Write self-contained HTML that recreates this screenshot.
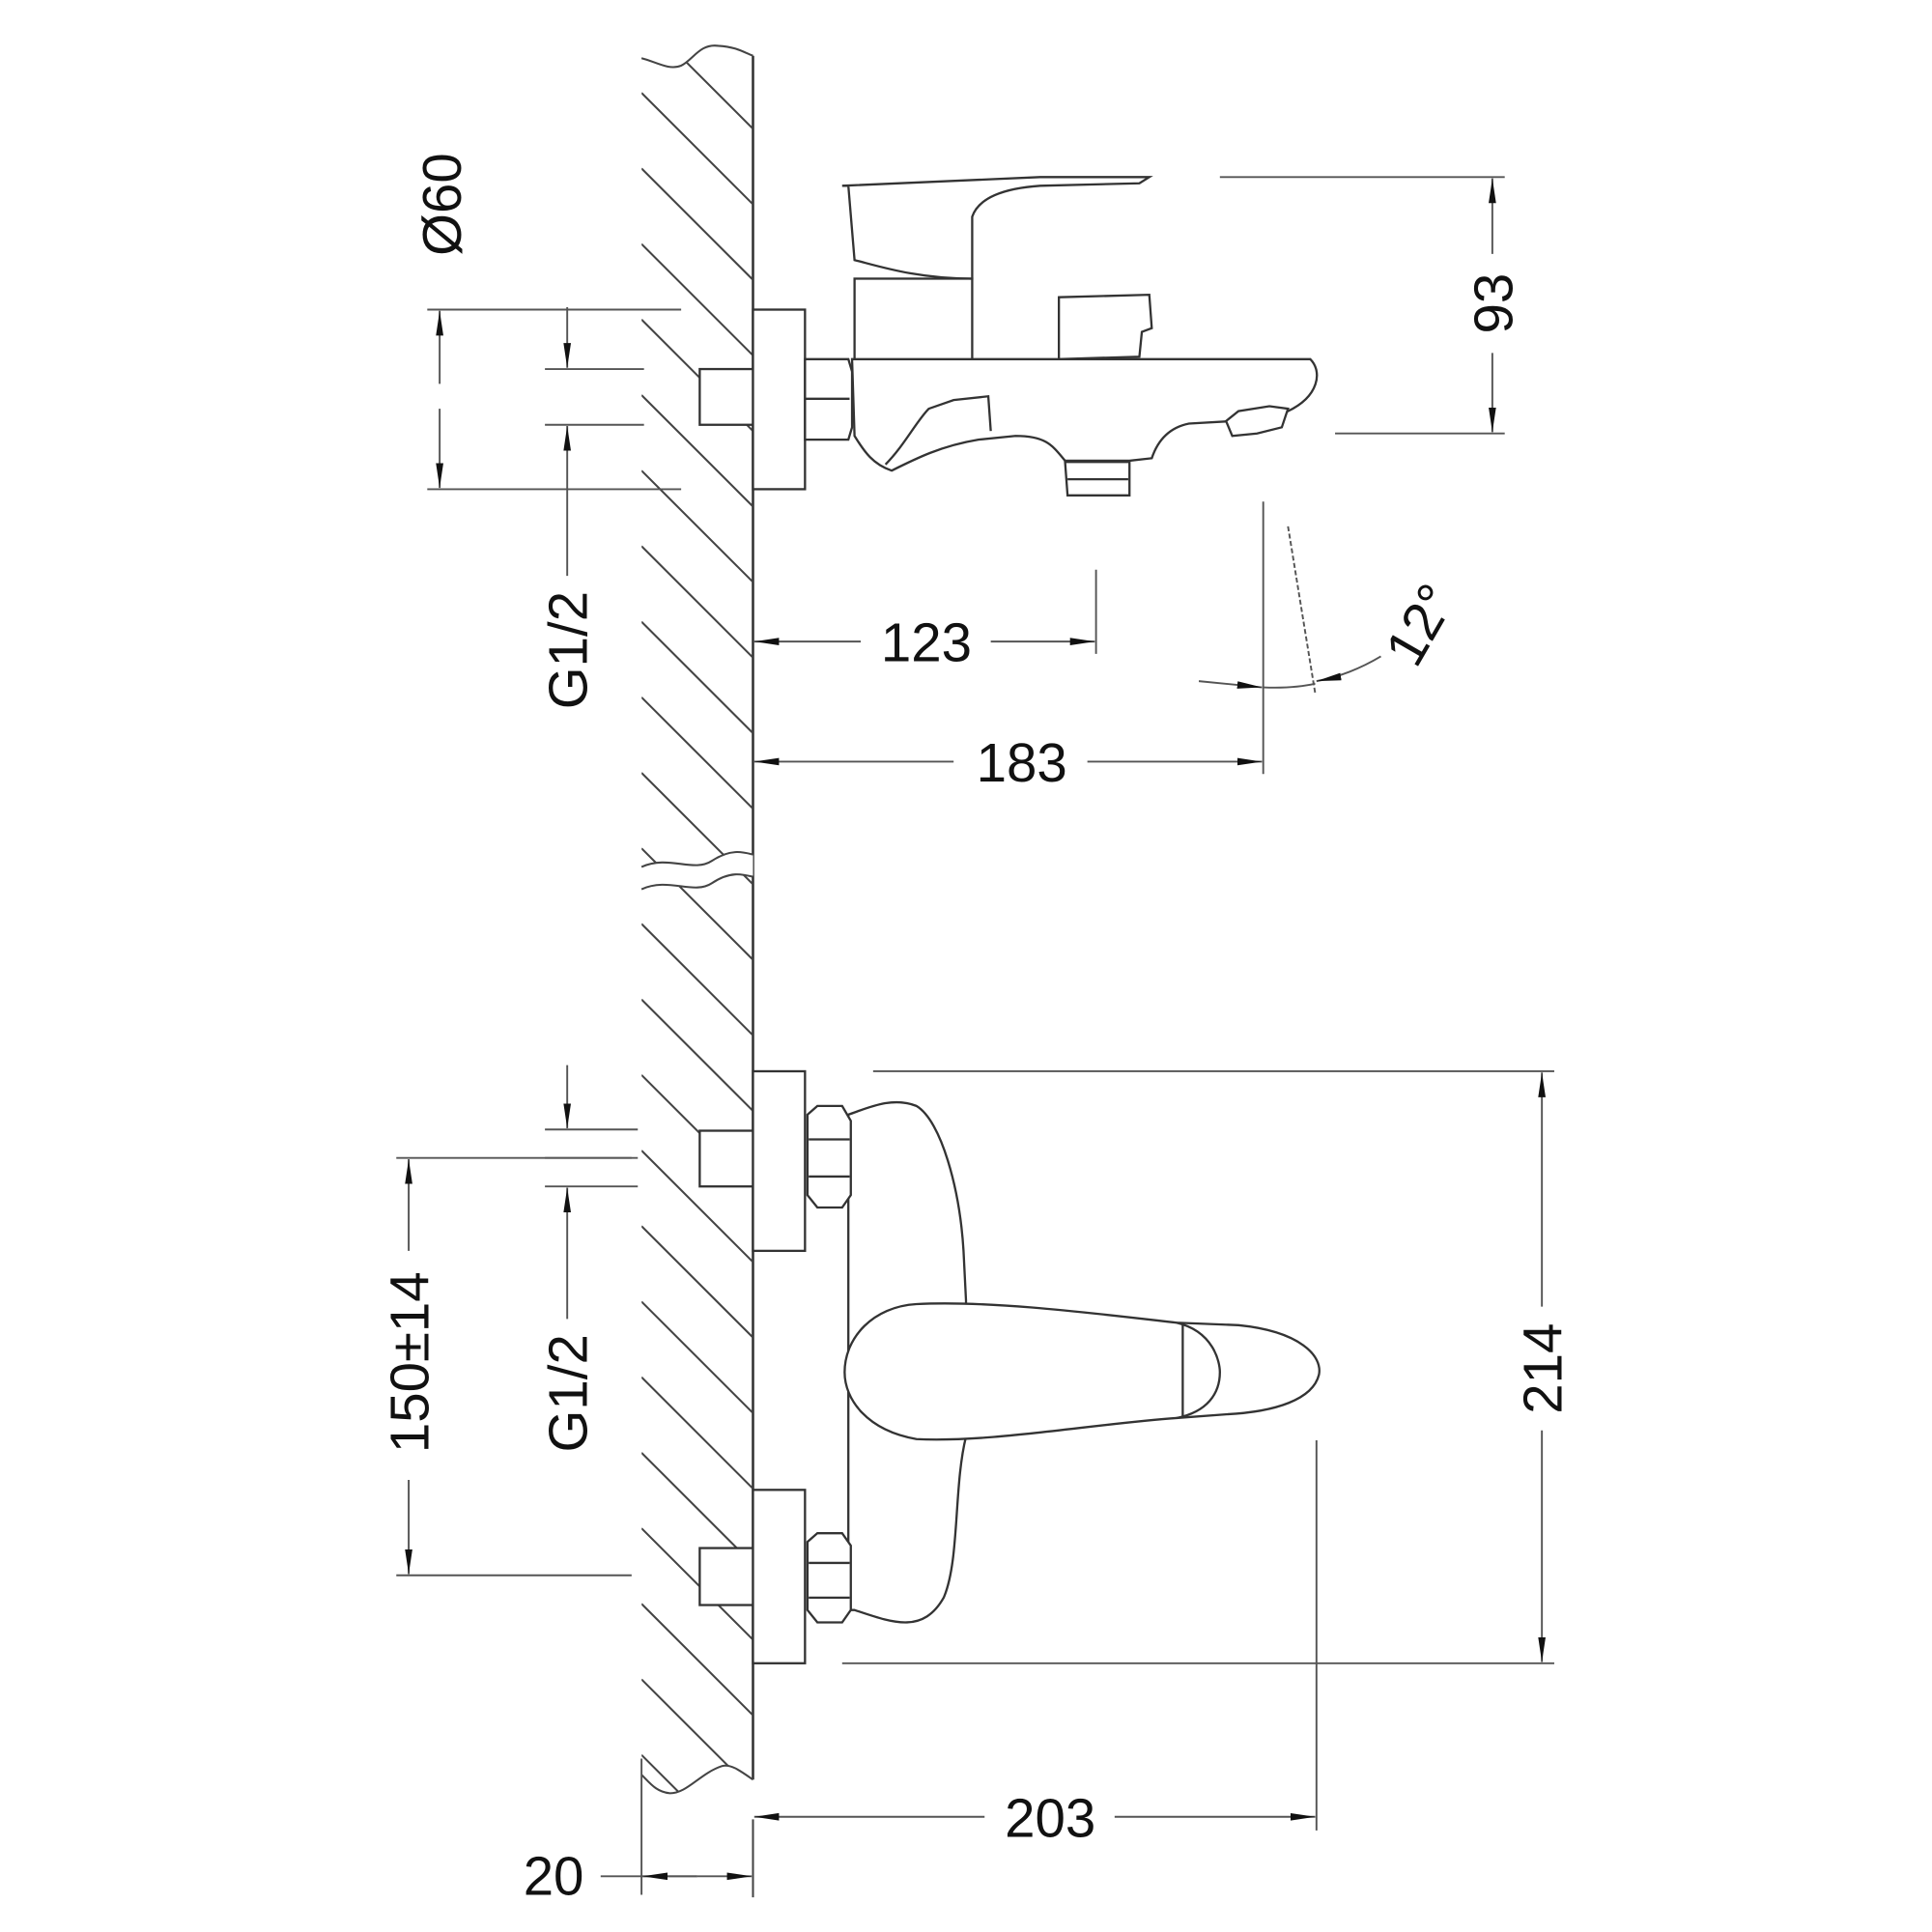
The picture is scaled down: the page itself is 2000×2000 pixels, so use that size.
<!DOCTYPE html>
<html><head><meta charset="utf-8"><style>html,body{margin:0;padding:0;background:#fff;overflow:hidden;width:2000px;height:2000px}svg{display:block}</style></head>
<body>
<svg width="2000" height="2000" viewBox="0 0 1560 1560" xmlns="http://www.w3.org/2000/svg">
<defs>
<marker id="a" viewBox="0 0 20 10" refX="20" refY="5" markerWidth="20" markerHeight="10" markerUnits="userSpaceOnUse" orient="auto"><path d="M0,2 L20,5 L0,8 Z" fill="#111"/></marker>
<clipPath id="wc"><path d="M518,47 C530,50 540,57 550,53 C560,48 565,35 580,37 C595,38 600,42 608,45 L608,1437 C598,1430 590,1424 583,1426 C565,1432 555,1448 541,1448 C530,1447 525,1440 518,1433 Z"/></clipPath>
</defs>
<g fill="none" stroke="#444" stroke-width="1.6">
<line x1="608" y1="45" x2="608" y2="1437" stroke="#333" stroke-width="2"/>
<line x1="608" y1="1469" x2="608" y2="1532"/>
<path d="M518,47 C530,50 540,57 550,53 C560,48 565,35 580,37 C595,38 600,42 608,45"/>
<path d="M608,1437 C598,1430 590,1424 583,1426 C565,1432 555,1448 541,1448 C530,1447 525,1440 518,1433"/>
<g clip-path="url(#wc)">
<path d="M518,-47 L608,43 M518,14 L608,104 M518,75 L608,165 M518,136 L608,226 M518,197 L608,287 M518,258 L608,348 M518,319 L608,409 M518,380 L608,470 M518,441 L608,531 M518,502 L608,592 M518,563 L608,653 M518,624 L608,714 M518,685 L608,775 M518,746 L608,836 M518,807 L608,897 M518,868 L608,958 M518,929 L608,1019 M518,990 L608,1080 M518,1051 L608,1141 M518,1112 L608,1202 M518,1173 L608,1263 M518,1234 L608,1324 M518,1295 L608,1385 M518,1356 L608,1446 M518,1417 L608,1507"/>
</g>
</g>
<path d="M516,700 C540,690 560,705 575,695 C590,685 600,688 608,690 L608,708 C600,706 590,703 575,713 C560,723 540,708 516,718 Z" fill="#fff"/>
<g fill="none" stroke="#444" stroke-width="1.6">
<path d="M518,700 C540,690 560,705 575,695 C590,685 600,688 608,690"/>
<path d="M518,718 C540,708 560,723 575,713 C590,703 600,706 608,708"/>
</g>

<!-- top faucet -->
<g fill="#fff" stroke="#333" stroke-width="1.8">
<rect x="565" y="298" width="43" height="45"/>
<rect x="608" y="250" width="42" height="145"/>
<path d="M650,290 L685,290 L688,300 L688,345 L685,355 L650,355 Z"/>
<line x1="650" y1="322" x2="686" y2="322"/>
<path d="M688,290 L1058,290 C1068,300 1065,320 1040,332 L1020,338 L995,340 L960,342 C945,345 935,355 930,370 L912,372 L860,372 C850,360 845,352 820,352 L790,355 C760,360 740,370 720,380 C705,375 698,365 690,352 Z"/>
<path d="M990,340 L995,352 L1015,350 L1035,345 L1040,330 L1025,328 L1000,332 Z"/>
<path d="M860,373 L912,373 L912,400 L862,400 Z"/>
<line x1="862" y1="387" x2="911" y2="387"/>
<path d="M715,375 C730,360 740,340 750,330 L770,323 L798,320 L800,348" fill="none"/>
<rect x="690" y="225" width="95" height="65"/>
<path d="M680,150 L685,150 L690,210 C710,215 740,225 785,225 L785,175 C790,160 810,152 840,150 L920,148 L928,143 L840,143 L680,150 Z"/>
<path d="M855,240 L928,238 L930,265 L922,268 L920,288 L855,290 Z"/>
</g>
<!-- bottom faucet -->
<g fill="#fff" stroke="#333" stroke-width="1.8">
<rect x="565" y="913" width="43" height="45"/>
<rect x="565" y="1250" width="43" height="46"/>
<path d="M685,900 C700,895 720,885 740,893 C760,905 775,960 778,1010 L780,1050 L780,1160 C770,1200 775,1260 762,1290 C745,1320 720,1310 690,1300 L685,1300 L685,900 Z"/>
<rect x="608" y="865" width="42" height="145"/>
<rect x="608" y="1203" width="42" height="140"/>
<path d="M652,900 L660,893 L680,893 L687,905 L687,965 L680,975 L660,975 L652,965 Z"/>
<line x1="653" y1="920" x2="686" y2="920"/><line x1="653" y1="950" x2="686" y2="950"/>
<path d="M652,1245 L660,1238 L680,1238 L687,1248 L687,1300 L680,1310 L660,1310 L652,1300 Z"/>
<line x1="653" y1="1262" x2="686" y2="1262"/><line x1="653" y1="1290" x2="686" y2="1290"/>
<path d="M740,1053 C800,1050 880,1060 950,1068 L1000,1070 C1050,1075 1068,1095 1065,1110 C1060,1130 1030,1140 990,1142 L950,1145 C880,1150 800,1165 740,1162 C700,1155 682,1130 682,1108 C682,1080 705,1055 740,1053 Z"/>
<path d="M950,1068 C980,1075 985,1100 985,1108 C985,1125 975,1140 950,1145" fill="none"/>
<line x1="955" y1="1068" x2="955" y2="1145"/>
</g>

<!-- dimensions -->
<g fill="none" stroke="#555" stroke-width="1.5">
<line x1="345" y1="250" x2="550" y2="250"/><line x1="345" y1="395" x2="550" y2="395"/>
<line x1="355" y1="310" x2="355" y2="251" marker-end="url(#a)"/><line x1="355" y1="330" x2="355" y2="394" marker-end="url(#a)"/>
<line x1="440" y1="298" x2="520" y2="298"/><line x1="440" y1="343" x2="520" y2="343"/>
<line x1="458" y1="248" x2="458" y2="297" marker-end="url(#a)"/>
<line x1="458" y1="465" x2="458" y2="344" marker-end="url(#a)"/>
<line x1="985" y1="143" x2="1215" y2="143"/><line x1="1078" y1="350" x2="1215" y2="350"/>
<line x1="1205" y1="205" x2="1205" y2="144" marker-end="url(#a)"/><line x1="1205" y1="285" x2="1205" y2="349" marker-end="url(#a)"/>
<line x1="885" y1="460" x2="885" y2="528"/>
<line x1="695" y1="518" x2="609" y2="518" marker-end="url(#a)"/><line x1="800" y1="518" x2="884" y2="518" marker-end="url(#a)"/>
<line x1="1020" y1="405" x2="1020" y2="625"/>
<line x1="770" y1="615" x2="609" y2="615" marker-end="url(#a)"/><line x1="878" y1="615" x2="1019" y2="615" marker-end="url(#a)"/>
<line x1="1040" y1="425" x2="1062" y2="560" stroke-dasharray="4,2"/>
<path d="M968,550 L1019,555" marker-end="url(#a)"/>
<path d="M1020,555 Q1045,556 1062,552"/>
<path d="M1115,530 Q1090,545 1063,550" marker-end="url(#a)"/>
<line x1="705" y1="865" x2="1255" y2="865"/><line x1="680" y1="1343" x2="1255" y2="1343"/>
<line x1="1245" y1="1055" x2="1245" y2="866" marker-end="url(#a)"/><line x1="1245" y1="1155" x2="1245" y2="1342" marker-end="url(#a)"/>
<line x1="1063" y1="1163" x2="1063" y2="1478"/>
<line x1="795" y1="1467" x2="609" y2="1467" marker-end="url(#a)"/><line x1="900" y1="1467" x2="1062" y2="1467" marker-end="url(#a)"/>
<line x1="320" y1="935" x2="510" y2="935"/><line x1="320" y1="1272" x2="510" y2="1272"/>
<line x1="330" y1="1010" x2="330" y2="936" marker-end="url(#a)"/><line x1="330" y1="1195" x2="330" y2="1271" marker-end="url(#a)"/>
<line x1="440" y1="912" x2="515" y2="912"/><line x1="440" y1="935" x2="515" y2="935"/><line x1="440" y1="958" x2="515" y2="958"/>
<line x1="458" y1="860" x2="458" y2="911" marker-end="url(#a)"/>
<line x1="458" y1="1065" x2="458" y2="959" marker-end="url(#a)"/>
<line x1="518" y1="1420" x2="518" y2="1530"/>
<line x1="485" y1="1515" x2="563" y2="1515"/>
<line x1="563" y1="1515" x2="519" y2="1515" marker-end="url(#a)"/><line x1="563" y1="1515" x2="607" y2="1515" marker-end="url(#a)"/>
</g>

<g font-family="Liberation Sans, sans-serif" font-size="44" fill="#111" text-anchor="middle">
<text x="748" y="534">123</text>
<text x="825" y="631">183</text>
<text x="848" y="1483">203</text>
<text x="447" y="1530">20</text>
<text transform="translate(372,165) rotate(-90)">Ø60</text>
<text transform="translate(474,525) rotate(-90)">G1/2</text>
<text transform="translate(474,1125) rotate(-90)">G1/2</text>
<text transform="translate(346,1100) rotate(-90)">150±14</text>
<text transform="translate(1221,245) rotate(-90)">93</text>
<text transform="translate(1261,1105) rotate(-90)">214</text>
<text transform="translate(1160,512) rotate(-60)">12°</text>
</g>
</svg>
</body></html>
